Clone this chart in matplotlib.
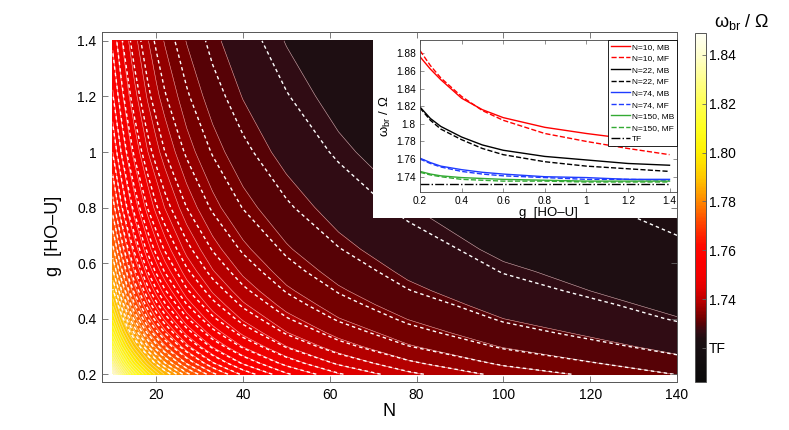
import numpy as np
import matplotlib
matplotlib.use('Agg')
import matplotlib.pyplot as plt
from matplotlib.colors import LinearSegmentedColormap, Normalize
from matplotlib.patches import Rectangle
from matplotlib.cm import ScalarMappable

plt.rcParams['font.family'] = ['Liberation Sans', 'DejaVu Sans']
plt.rcParams['mathtext.fontset'] = 'custom'
plt.rcParams['mathtext.rm'] = 'Liberation Sans'
plt.rcParams['mathtext.it'] = 'Liberation Sans:italic'

# ---- main map: omega_br / Omega on the (N, g) grid ----
N_grid = [10, 12, 13.5, 15, 18, 20, 22, 27, 33, 40, 50, 62, 78, 100, 140]
g_grid = [0.2, 0.24, 0.3, 0.35, 0.4, 0.45, 0.5, 0.57, 0.65, 0.8, 1.0, 1.2, 1.4]

# many-body (filled map + thin solid contours), rows = g, columns = N
omega_mb = [
 [1.8404, 1.8267, 1.8182, 1.8109, 1.7992, 1.7929, 1.7875, 1.7768, 1.7677, 1.7600, 1.7524, 1.7462, 1.7407, 1.7359, 1.7309],
 [1.8288, 1.8157, 1.8077, 1.8010, 1.7901, 1.7843, 1.7793, 1.7697, 1.7614, 1.7546, 1.7479, 1.7424, 1.7376, 1.7334, 1.7290],
 [1.8153, 1.8032, 1.7959, 1.7897, 1.7800, 1.7748, 1.7704, 1.7619, 1.7547, 1.7488, 1.7430, 1.7384, 1.7343, 1.7308, 1.7271],
 [1.8065, 1.7951, 1.7883, 1.7826, 1.7736, 1.7688, 1.7649, 1.7571, 1.7506, 1.7453, 1.7401, 1.7360, 1.7324, 1.7292, 1.7260],
 [1.7993, 1.7886, 1.7822, 1.7769, 1.7685, 1.7641, 1.7605, 1.7533, 1.7474, 1.7426, 1.7379, 1.7341, 1.7309, 1.7280, 1.7251],
 [1.7933, 1.7832, 1.7772, 1.7722, 1.7644, 1.7603, 1.7569, 1.7503, 1.7448, 1.7404, 1.7360, 1.7326, 1.7296, 1.7270, 1.7244],
 [1.7883, 1.7786, 1.7730, 1.7683, 1.7609, 1.7571, 1.7539, 1.7477, 1.7427, 1.7385, 1.7345, 1.7314, 1.7286, 1.7262, 1.7238],
 [1.7823, 1.7733, 1.7680, 1.7637, 1.7569, 1.7534, 1.7504, 1.7448, 1.7402, 1.7365, 1.7328, 1.7300, 1.7275, 1.7254, 1.7232],
 [1.7767, 1.7683, 1.7635, 1.7595, 1.7532, 1.7500, 1.7473, 1.7422, 1.7380, 1.7346, 1.7313, 1.7287, 1.7265, 1.7245, 1.7226],
 [1.7686, 1.7612, 1.7569, 1.7534, 1.7480, 1.7452, 1.7429, 1.7385, 1.7348, 1.7319, 1.7292, 1.7270, 1.7251, 1.7234, 1.7218],
 [1.7610, 1.7545, 1.7508, 1.7478, 1.7431, 1.7408, 1.7388, 1.7350, 1.7320, 1.7295, 1.7272, 1.7254, 1.7238, 1.7224, 1.7210],
 [1.7555, 1.7498, 1.7465, 1.7438, 1.7397, 1.7376, 1.7359, 1.7327, 1.7300, 1.7279, 1.7259, 1.7243, 1.7229, 1.7217, 1.7205],
 [1.7513, 1.7462, 1.7432, 1.7408, 1.7372, 1.7353, 1.7338, 1.7309, 1.7285, 1.7267, 1.7249, 1.7235, 1.7223, 1.7212, 1.7202],
]

# mean-field (white dashed contours)
omega_mf = [
 [1.8408, 1.8270, 1.8186, 1.8113, 1.7995, 1.7932, 1.7877, 1.7771, 1.7679, 1.7602, 1.7525, 1.7464, 1.7408, 1.7360, 1.7309],
 [1.8285, 1.8155, 1.8075, 1.8008, 1.7899, 1.7841, 1.7792, 1.7695, 1.7613, 1.7545, 1.7478, 1.7424, 1.7376, 1.7334, 1.7290],
 [1.8142, 1.8022, 1.7950, 1.7889, 1.7792, 1.7741, 1.7697, 1.7613, 1.7542, 1.7484, 1.7427, 1.7381, 1.7341, 1.7306, 1.7270],
 [1.8049, 1.7937, 1.7869, 1.7813, 1.7725, 1.7678, 1.7638, 1.7563, 1.7499, 1.7447, 1.7396, 1.7356, 1.7320, 1.7289, 1.7258],
 [1.7972, 1.7867, 1.7805, 1.7753, 1.7671, 1.7628, 1.7592, 1.7523, 1.7465, 1.7418, 1.7372, 1.7336, 1.7304, 1.7277, 1.7248],
 [1.7909, 1.7810, 1.7752, 1.7703, 1.7627, 1.7588, 1.7554, 1.7491, 1.7438, 1.7395, 1.7353, 1.7320, 1.7292, 1.7267, 1.7241],
 [1.7856, 1.7762, 1.7707, 1.7662, 1.7591, 1.7554, 1.7523, 1.7464, 1.7416, 1.7376, 1.7338, 1.7308, 1.7281, 1.7258, 1.7235],
 [1.7794, 1.7707, 1.7657, 1.7615, 1.7550, 1.7516, 1.7488, 1.7435, 1.7390, 1.7355, 1.7320, 1.7293, 1.7270, 1.7249, 1.7228],
 [1.7738, 1.7658, 1.7611, 1.7573, 1.7513, 1.7482, 1.7457, 1.7408, 1.7368, 1.7336, 1.7305, 1.7281, 1.7260, 1.7241, 1.7223],
 [1.7654, 1.7584, 1.7543, 1.7510, 1.7459, 1.7433, 1.7411, 1.7370, 1.7336, 1.7309, 1.7283, 1.7263, 1.7245, 1.7230, 1.7214],
 [1.7577, 1.7517, 1.7482, 1.7454, 1.7411, 1.7389, 1.7370, 1.7336, 1.7308, 1.7285, 1.7264, 1.7247, 1.7233, 1.7220, 1.7207],
 [1.7522, 1.7470, 1.7440, 1.7415, 1.7377, 1.7358, 1.7342, 1.7313, 1.7288, 1.7269, 1.7251, 1.7236, 1.7224, 1.7213, 1.7202],
 [1.7481, 1.7434, 1.7408, 1.7386, 1.7353, 1.7336, 1.7322, 1.7296, 1.7274, 1.7257, 1.7241, 1.7229, 1.7218, 1.7208, 1.7199],
]

# ---- inset: omega_br / Omega versus g for a few N ----
g_inset = [0.2, 0.25, 0.3, 0.4, 0.5, 0.6, 0.8, 1.0, 1.2, 1.4]
w10_mb  = [1.876, 1.862, 1.850, 1.829, 1.816, 1.807, 1.796, 1.789, 1.783, 1.779]
w10_mf  = [1.883, 1.866, 1.852, 1.831, 1.815, 1.804, 1.789, 1.780, 1.772, 1.765]
w22_mb  = [1.819, 1.806, 1.797, 1.785, 1.776, 1.770, 1.763, 1.759, 1.755, 1.753]
w22_mf  = [1.818, 1.804, 1.794, 1.782, 1.772, 1.765, 1.757, 1.752, 1.749, 1.746]
w74_mb  = [1.761, 1.756, 1.752, 1.748, 1.745, 1.743, 1.740, 1.739, 1.737, 1.737]
w74_mf  = [1.760, 1.755, 1.751, 1.746, 1.743, 1.741, 1.739, 1.737, 1.737, 1.736]
w150_mb = [1.746, 1.743, 1.741, 1.739, 1.738, 1.737, 1.736, 1.735, 1.735, 1.735]
w150_mf = [1.745, 1.742, 1.740, 1.737, 1.736, 1.735, 1.735, 1.734, 1.734, 1.734]
w_tf = 1.732

# colour bar
cbar_ticks = [1.72, 1.74, 1.76, 1.78, 1.80, 1.82, 1.84]
cbar_labels = ['TF', '1.74', '1.76', '1.78', '1.80', '1.82', '1.84']
vmin, vmax = 1.706, 1.849

# hot-like map with a dark greyish bottom, as in the figure
anchors = [
 (1.706, (10, 10, 10)), (1.7205, (24, 15, 18)), (1.7235, (30, 14, 18)),
 (1.7265, (50, 12, 20)), (1.7295, (85, 2, 6)), (1.7325, (118, 0, 0)),
 (1.7355, (150, 0, 0)), (1.7385, (180, 0, 0)), (1.7415, (205, 0, 0)),
 (1.7445, (225, 0, 0)), (1.7475, (238, 0, 0)), (1.7505, (246, 0, 0)),
 (1.756, (253, 0, 0)), (1.762, (255, 10, 0)), (1.77, (255, 60, 0)),
 (1.78, (255, 135, 0)), (1.79, (255, 200, 0)), (1.80, (255, 240, 0)),
 (1.81, (255, 255, 30)), (1.82, (255, 255, 80)), (1.83, (255, 255, 140)),
 (1.84, (255, 255, 205)), (1.849, (255, 255, 245)),
]
cmap = LinearSegmentedColormap.from_list(
 'hotdark', [((v - vmin) / (vmax - vmin), tuple(c / 255 for c in col)) for v, col in anchors])
norm = Normalize(vmin=vmin, vmax=vmax)
levels = np.arange(1.719, 1.8431, 0.003)
mf_levels = levels[levels < 1.786]

fig = plt.figure(figsize=(7.89, 4.30), dpi=100)
ax = fig.add_axes([102/789, 48/430, 575/789, 350/430])

NN, GG = np.meshgrid(N_grid, g_grid)
mb = np.array(omega_mb)
mf = np.array(omega_mf)
ax.contourf(NN, GG, mb, levels=levels, cmap=cmap, norm=norm)
ax.contour(NN, GG, mb, levels=levels, colors='#f6dada', linewidths=0.4, alpha=0.8)
cs = ax.contour(NN, GG, mf, levels=mf_levels, colors='white', linewidths=1.0)
cs.set_linestyle((0, (2.5, 2.2)))

ax.set_xlim(7.5, 140)
ax.set_ylim(0.172, 1.432)
ax.set_xticks([20, 40, 60, 80, 100, 120, 140])
ax.set_yticks([0.2, 0.4, 0.6, 0.8, 1.0, 1.2, 1.4])
ax.set_yticklabels(['0.2', '0.4', '0.6', '0.8', '1', '1.2', '1.4'])
ax.tick_params(direction='in', top=True, right=True, length=4, width=0.6,
               color='#666666', labelsize=10, pad=4)
for sp in ax.spines.values():
    sp.set_color('#555555')
    sp.set_linewidth(0.7)
ax.set_axisbelow(False)
ax.set_xlabel('N', fontsize=13, labelpad=1)
ax.set_ylabel('g  [HO–U]', fontsize=13)
ax.yaxis.set_label_coords(-0.07, 0.417)

# white backing of the inset
ax.add_patch(Rectangle((0.471, 0.469), 0.529, 0.531, transform=ax.transAxes,
                       facecolor='white', edgecolor='none', zorder=2.2))

# colour bar
cax = fig.add_axes([695/789, 48/430, 11/789, 349/430])
cb = fig.colorbar(ScalarMappable(norm=norm, cmap=cmap), cax=cax)
cb.set_ticks(cbar_ticks)
cb.set_ticklabels(cbar_labels)
cb.ax.tick_params(direction='in', length=3, width=0.6, color='#666666', labelsize=10, pad=2)
cb.outline.set_edgecolor('#555555')
cb.outline.set_linewidth(0.7)
fig.text(742/789, 1 - 22/430, 'ω$_{\\mathrm{br}}$ / Ω', fontsize=13, ha='center', va='center')

# inset
axi = fig.add_axes([420/789, 238.3/430, 257/789, 151.7/430])
axi.plot(g_inset, w10_mb, '-', color='red', lw=1.0, label='N=10, MB')
axi.plot(g_inset, w10_mf, '--', color='red', lw=1.0, label='N=10, MF')
axi.plot(g_inset, w22_mb, '-', color='black', lw=1.0, label='N=22, MB')
axi.plot(g_inset, w22_mf, '--', color='black', lw=1.0, label='N=22, MF')
axi.plot(g_inset, w74_mb, '-', color='#1f3cff', lw=1.0, label='N=74, MB')
axi.plot(g_inset, w74_mf, '--', color='#1f3cff', lw=1.0, label='N=74, MF')
axi.plot(g_inset, w150_mb, '-', color='#33aa33', lw=1.0, label='N=150, MB')
axi.plot(g_inset, w150_mf, '--', color='#33aa33', lw=1.0, label='N=150, MF')
axi.plot([g_inset[0], g_inset[-1]], [w_tf, w_tf], '-.', color='black', lw=1.0, label='TF')
axi.set_xlim(0.2, 1.436)
axi.set_ylim(1.723, 1.895)
axi.set_xticks([0.2, 0.4, 0.6, 0.8, 1.0, 1.2, 1.4])
axi.set_xticklabels(['0.2', '0.4', '0.6', '0.8', '1', '1.2', '1.4'])
axi.set_yticks([1.74, 1.76, 1.78, 1.80, 1.82, 1.84, 1.86, 1.88])
axi.set_yticklabels(['1.74', '1.76', '1.78', '1.8', '1.82', '1.84', '1.86', '1.88'])
axi.tick_params(direction='in', top=True, right=True, length=3, width=0.5,
                color='#666666', labelsize=7.3, pad=3)
for sp in axi.spines.values():
    sp.set_color('#444444')
    sp.set_linewidth(0.6)
axi.set_xlabel('g  [HO–U]', fontsize=9.5, labelpad=1)
axi.set_ylabel('ω$_{\\mathrm{br}}$ / Ω', fontsize=9.5, labelpad=2)
leg = axi.legend(loc='upper right', fontsize=6, borderaxespad=0, fancybox=False,
                 framealpha=1, edgecolor='black', handlelength=2.3, labelspacing=0.45,
                 handletextpad=0.2, borderpad=0.35)
leg.get_frame().set_linewidth(0.6)

fig.savefig('out.png', dpi=100)
